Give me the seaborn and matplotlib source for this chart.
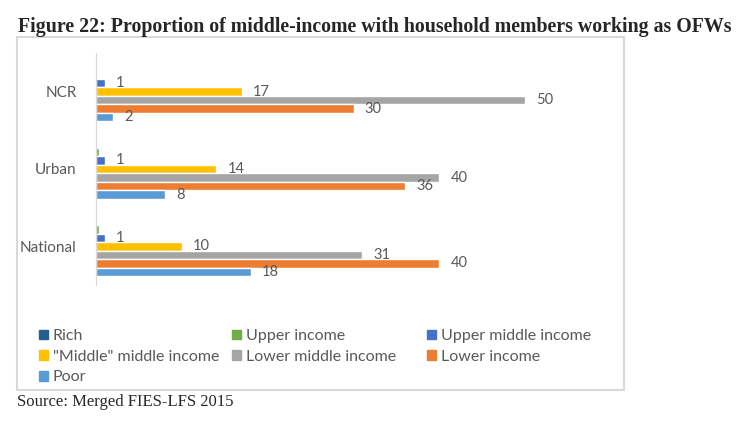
import pandas as pd
import matplotlib.pyplot as plt
import seaborn as sns
from matplotlib.patches import Rectangle

# data
areas = ['NCR', 'Urban', 'National']
groups = ['Rich', 'Upper income', 'Upper middle income', '"Middle" middle income',
          'Lower middle income', 'Lower income', 'Poor']
rich = [0, 0, 0]
upper_income = [0, 0.3, 0.3]
upper_middle = [1, 1, 1]
middle_middle = [17, 14, 10]
lower_middle = [50, 40, 31]
lower_income = [30, 36, 40]
poor = [2, 8, 18]

colors = ['#255E91', '#70AD47', '#4472C4', '#FFC000', '#A5A5A5', '#ED7D31', '#5B9BD5']

series = [rich, upper_income, upper_middle, middle_middle, lower_middle, lower_income, poor]
rows = []
for g, vals in zip(groups, series):
    for a, v in zip(areas, vals):
        rows.append({'Area': a, 'Group': g, 'Value': v})
df = pd.DataFrame(rows)

sns.set_style('white')
plt.rcParams['font.family'] = ['Lato', 'DejaVu Sans']

fig = plt.figure(figsize=(7.45, 4.25), dpi=100)
ax = fig.add_axes([96 / 745, 1 - 285 / 425, (611 - 96) / 745, 232 / 425])

sns.barplot(data=df, x='Value', y='Area', hue='Group', order=areas, hue_order=groups,
            palette=colors, orient='h', width=0.77, ax=ax, legend=False, saturation=1)

# value labels (Excel shows them only from "Upper middle income" on)
for i, cont in enumerate(ax.containers):
    if i >= 2:
        ax.bar_label(cont, fmt='%g', padding=8, color='#595959', fontsize=10.5)

ax.set_xlim(0, 60)
ax.set_ylim(2.5, -0.5)
ax.set_xlabel('')
ax.set_ylabel('')
ax.set_xticks([])
ax.tick_params(axis='y', length=0, labelsize=11, labelcolor='#595959', pad=14)
for s in ['top', 'right', 'bottom']:
    ax.spines[s].set_visible(False)
ax.spines['left'].set_color('#D9D9D9')
ax.patch.set_alpha(0)

# legend, three columns laid out like Excel's
handles = {g: Rectangle((0, 0), 1, 1, color=c) for g, c in zip(groups, colors)}
cols = [[groups[0], groups[3], groups[6]], [groups[1], groups[4]], [groups[2], groups[5]]]
xs = [39 / 745, 232 / 745, 427 / 745]
for x, names in zip(xs, cols):
    leg = fig.legend([handles[n] for n in names], names, loc='upper left',
                     bbox_to_anchor=(x, 1 - 329 / 425), frameon=False, fontsize=11.5,
                     handlelength=0.55, handleheight=0.55, handletextpad=0.3,
                     labelspacing=0.42, borderpad=0, borderaxespad=0)
    for t in leg.get_texts():
        t.set_color('#595959')

# chart frame
fig.patches.append(Rectangle((17 / 745, 1 - 390 / 425), (624 - 17) / 745, (390 - 37) / 425,
                             transform=fig.transFigure, fill=False,
                             edgecolor='#D9D9D9', linewidth=1.5))

fig.text(18 / 745, 1 - 27 / 425,
         'Figure 22: Proportion of middle-income with household members working as OFWs',
         family='Liberation Serif', fontweight='bold', fontsize=14.3, va='center', ha='left')
fig.text(17 / 745, 1 - 402 / 425, 'Source: Merged FIES-LFS 2015',
         family='Liberation Serif', fontsize=12, va='center', ha='left')

fig.savefig('out.png', dpi=100)
